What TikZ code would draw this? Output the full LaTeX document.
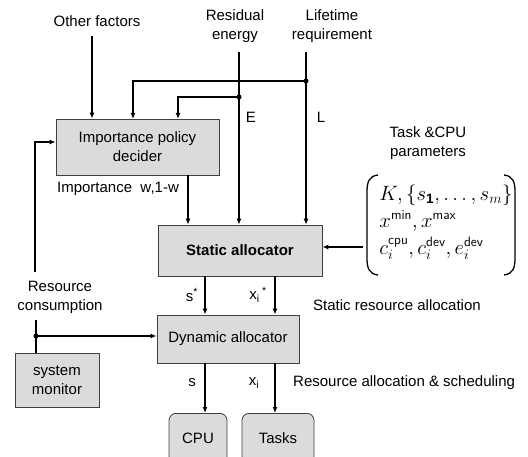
\documentclass[tikz,border=0pt]{standalone}
\usepackage{fontspec}
\setmainfont{Liberation Sans}
\usepackage{amsmath}
\usetikzlibrary{arrows.meta,calc}
\begin{document}
\begin{tikzpicture}[x=1pt,y=-1pt,
  lbl/.style={font=\fontsize{15}{19}\selectfont, align=center, inner sep=0pt},
  box/.style={draw=black!75, line width=0.8pt, fill=black!14, font=\fontsize{15}{19}\selectfont, align=center, inner sep=0pt},
  rbox/.style={box, rounded corners=7pt},
  conn/.style={line width=1.6pt, black},
  arr/.style={conn, -{Latex[length=6pt,width=5pt]}},
  paren/.style={line width=1.3pt, black},
  dot/.style={circle, fill=black, inner sep=0pt, minimum size=5pt}]
\useasboundingbox (0,0) rectangle (528,457);
\clip (0,0) rectangle (528,457);
% boxes
\node[box, minimum width=163, minimum height=56] (ipd) at (137.5,147) {Importance policy\\decider};
\node[box, minimum width=164, minimum height=51, font=\fontsize{15}{19}\selectfont\bfseries] (sa) at (240,250.5) {Static allocator};
\node[box, minimum width=142, minimum height=48] (da) at (228,339) {Dynamic allocator};
\node[box, minimum width=84, minimum height=54] (sm) at (57,380) {system\\monitor};
\node[rbox, minimum width=58, minimum height=50, anchor=north] (cpu) at (198,413) {CPU};
\node[rbox, minimum width=72, minimum height=50, anchor=north] (tasks) at (278,413) {Tasks};
% texts
\node[lbl] (other) at (97,21) {Other factors};
\node[lbl] (resid) at (235,26) {Residual\\energy};
\node[lbl] (life) at (332,26) {Lifetime\\requirement};
\node[lbl] (tcp) at (428,143) {Task \&CPU\\parameters};
\node[lbl] (E) at (251,117) {E};
\node[lbl] (L) at (321,117) {L};
\node[lbl] (imp) at (118,189) {Importance\ \ w,1-w};
\node[lbl] (rc) at (60,297) {Resource\\consumption};
\node[lbl] (sstar) at (192,295) {s\textsuperscript{*}};
\node[lbl] (xstar) at (258,295) {x\textsubscript{i}\,\textsuperscript{*}};
\node[lbl] (sra) at (397,305) {Static resource allocation};
\node[lbl] (slab) at (192,383) {s};
\node[lbl] (xlab) at (254,383) {x\textsubscript{i}};
\node[lbl, anchor=west] (ras) at (293,383) {Resource allocation \& scheduling};
\node[inner sep=0pt, font=\fontsize{19.5}{22}\selectfont] (mat) at (446,223)
  {$\begin{array}{@{}l@{}}
   K,\{s_{\mathbf{1}},\ldots,s_m\}\\[3.5pt]
   x^{\textsf{min}},x^{\textsf{max}}\\[3.5pt]
   c_i^{\textsf{cpu}},c_i^{\textsf{dev}},e_i^{\textsf{dev}}
   \end{array}$};
% parentheses of the parameter list
\draw[paren] (378,175) .. controls (369,176) and (367,182) .. (367,192) -- (367,258) .. controls (367,268) and (369,274) .. (378,275);
\draw[paren] (504,175) .. controls (513,176) and (515,182) .. (515,192) -- (515,258) .. controls (515,268) and (513,274) .. (504,275);
% coordinates
\coordinate (Ltop) at (306,52);
\coordinate (Etop) at (239,52);
\coordinate (jL) at (306,81);
\coordinate (jE) at (239,97);
\coordinate (Otop) at (92,36);
\coordinate (Ltarget) at (133,119);
\coordinate (Etarget) at (178,119);
\coordinate (Wsrc) at (188,175);
\coordinate (psrc) at (363,247);
\coordinate (fb) at (35,272);
\coordinate (rtop) at (36,320);
\coordinate (jR) at (36,336);
\coordinate (ssrc) at (205,276);
\coordinate (xsrc) at (275,276);
\coordinate (s2) at (205,363);
\coordinate (x2) at (275,363);
% connectors
\draw[arr] (Otop) -- (Otop |- ipd.north);
\draw[arr] (Ltop) -- (Ltop |- sa.north);
\draw[arr] (Etop) -- (Etop |- sa.north);
\draw[arr] (jL) -| (Ltarget);
\draw[arr] (jE) -| (Etarget);
\draw[arr] (Wsrc) -- (Wsrc |- sa.north);
\draw[arr] (psrc) -- (psrc -| sa.east);
\draw[arr] (fb) |- (ipd.west |- 0,142);
\draw[conn] (rtop) -- (rtop |- sm.north);
\draw[arr] (jR) -- (jR -| da.west);
\draw[arr] (ssrc) -- (ssrc |- da.north);
\draw[arr] (xsrc) -- (xsrc |- da.north);
\draw[arr] (s2) -- (s2 |- cpu.north);
\draw[arr] (x2) -- (x2 |- tasks.north);
\node[dot] at (jL) {};
\node[dot] at (jE) {};
\node[dot] at (jR) {};
\end{tikzpicture}
\end{document}
